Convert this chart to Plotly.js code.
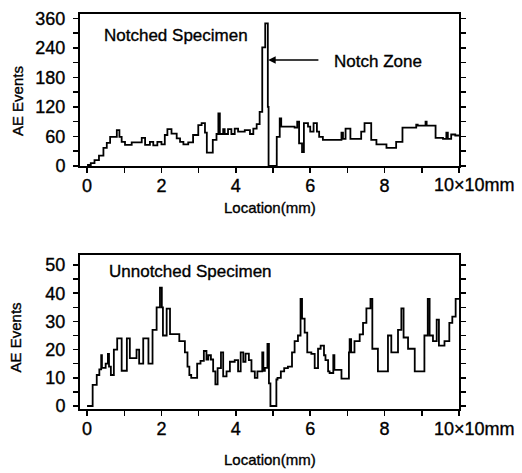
<!DOCTYPE html>
<html>
<head>
<meta charset="utf-8">
<script src="https://cdn.plot.ly/plotly-3.0.1.min.js"></script>
<style>
html,body{margin:0;padding:0;background:#fff;}
#chart{width:522px;height:473px;}
#chart text{stroke:#000;stroke-width:0.35px;}
</style>
</head>
<body>
<div id="chart"></div>
<script>
// Notched specimen: step locations (x, in units of 10 mm) and AE event counts
const notchedX = [0, 0.10, 0.20, 0.32, 0.44, 0.53, 0.62, 0.80, 0.87, 0.93, 1.02, 1.20, 1.47, 1.56, 1.69, 1.78, 1.89, 2.00, 2.09, 2.16, 2.27, 2.41, 2.50, 2.59, 2.72, 2.85, 2.99, 3.08, 3.17, 3.22, 3.38, 3.48, 3.53, 3.57, 3.66, 3.70, 3.79, 3.88, 3.97, 4.06, 4.24, 4.38, 4.47, 4.56, 4.64, 4.71, 4.79, 4.86, 4.88, 5.10, 5.18, 5.22, 5.58, 5.65, 5.70, 5.78, 5.83, 5.94, 6.00, 6.09, 6.18, 6.24, 6.34, 6.84, 6.88, 6.95, 7.08, 7.37, 7.46, 7.64, 7.78, 8.05, 8.31, 8.48, 8.85, 8.89, 9.10, 9.13, 9.37, 9.57, 9.66, 9.70, 9.79, 9.90, 10.0];
const notchedY = [2, 6, 12, 21, 37, 47, 59, 73, 59, 49, 43, 48, 57, 43, 49, 42, 49, 44, 63, 75, 66, 56, 49, 44, 48, 63, 83, 87, 68, 27, 53, 65, 107, 65, 75, 65, 75, 65, 76, 70, 73, 65, 76, 85, 110, 241, 290, 120, 0, 59, 97, 80, 78, 90, 46, 28, 87, 80, 70, 87, 70, 59, 53, 68, 55, 76, 55, 70, 87, 53, 44, 37, 49, 78, 84, 82, 90, 82, 57, 55, 68, 55, 64, 62, 62];

// Unnotched specimen
const unnotchedX = [0, 0.15, 0.26, 0.33, 0.38, 0.40, 0.50, 0.56, 0.59, 0.64, 0.72, 0.81, 0.93, 1.07, 1.15, 1.33, 1.40, 1.51, 1.65, 1.76, 1.87, 1.96, 2.01, 2.04, 2.14, 2.23, 2.48, 2.63, 2.70, 2.75, 2.80, 2.96, 3.05, 3.14, 3.21, 3.26, 3.33, 3.39, 3.45, 3.51, 3.60, 3.66, 3.75, 3.84, 3.97, 4.06, 4.13, 4.20, 4.26, 4.35, 4.42, 4.51, 4.58, 4.71, 4.74, 4.78, 4.85, 4.89, 4.93, 5.09, 5.12, 5.21, 5.30, 5.40, 5.51, 5.58, 5.67, 5.74, 5.78, 5.85, 5.92, 6.03, 6.12, 6.21, 6.28, 6.37, 6.41, 6.48, 6.52, 6.62, 6.65, 6.84, 7.04, 7.06, 7.10, 7.19, 7.33, 7.42, 7.51, 7.62, 7.67, 7.82, 8.09, 8.18, 8.36, 8.45, 8.51, 8.63, 8.81, 9.07, 9.16, 9.21, 9.30, 9.40, 9.46, 9.61, 9.74, 9.82, 9.91, 10.0];
const unnotchedY = [0, 7.5, 11, 13, 18, 13.5, 15, 18.5, 14, 11, 20, 24, 12.5, 24, 17, 20, 15, 24, 15, 27, 35, 42, 35, 25, 34.5, 25.5, 23, 19, 14, 11, 10, 15, 16, 19.5, 16.5, 18, 16.5, 12.3, 7.7, 13.4, 19, 10.5, 12.3, 15.7, 16.3, 12.3, 19, 15.7, 18.6, 16.3, 12.3, 10, 12.3, 19, 12.5, 13.5, 22, 8, 0, 9.4, 10, 12.3, 13.4, 14, 19, 23, 25, 38, 31, 26, 19, 18.5, 13.4, 20.3, 21.4, 18, 16.3, 12.3, 11.7, 18, 12.8, 9.7, 19, 23.7, 19, 23, 25.4, 29.5, 34.6, 38, 20.3, 12.3, 25, 19, 27, 34.6, 24.3, 20.3, 12.3, 25, 38, 25, 23, 30.6, 21.4, 23, 29.5, 31.7, 38, 38];

// Tick labels
const xTickVals = [0, 1, 2, 3, 4, 5, 6, 7, 8, 9, 10];
const xTickText = ['0', '', '2', '', '4', '', '6', '', '8', '', ''];
const topTickVals = [0, 30, 60, 90, 120, 150, 180, 210, 240, 270, 300];
const topTickText = ['0', '', '60', '', '120', '', '180', '', '240', '', '360'];
const botTickVals = [0, 5, 10, 15, 20, 25, 30, 35, 40, 45, 50];
const botTickText = ['0', '', '10', '', '20', '', '30', '', '40', '', '50'];

const FONT = 'Liberation Sans, Arial, Helvetica, sans-serif';
const lineStyle = {color: '#000', width: 1.8, shape: 'hv'};

const traces = [
  {x: notchedX, y: notchedY, type: 'scatter', mode: 'lines', line: lineStyle, xaxis: 'x', yaxis: 'y', hoverinfo: 'skip'},
  {x: unnotchedX, y: unnotchedY, type: 'scatter', mode: 'lines', line: lineStyle, xaxis: 'x2', yaxis: 'y2', hoverinfo: 'skip'}
];

function xAxis(anchor) {
  return {
    anchor: anchor, range: [-0.19, 10.0], tickmode: 'array', tickvals: xTickVals, ticktext: xTickText,
    ticks: 'outside', ticklen: 5, tickwidth: 1.5, tickcolor: '#000',
    showline: true, linecolor: '#000', linewidth: 2, mirror: true,
    showgrid: false, zeroline: false, ticklabelstandoff: -3,
    tickfont: {family: FONT, size: 18, color: '#000'}
  };
}
function yAxis(anchor, domain, range, vals, text) {
  return {
    anchor: anchor, domain: domain, range: range, tickmode: 'array', tickvals: vals, ticktext: text,
    ticks: 'outside', ticklen: 5, tickwidth: 1.5, tickcolor: '#000',
    showline: true, linecolor: '#000', linewidth: 2, mirror: 'ticks',
    showgrid: false, zeroline: false, ticklabelstandoff: 4,
    tickfont: {family: FONT, size: 18, color: '#000'}
  };
}

function txt(text, x, y, opts) {
  return Object.assign({text: text, x: x, y: y, xref: 'paper', yref: 'paper', showarrow: false,
    xanchor: 'center', yanchor: 'middle', font: {family: FONT, size: 17, color: '#000'}}, opts || {});
}

const layout = {
  width: 522, height: 473,
  margin: {l: 80, r: 63, t: 14, b: 64},
  paper_bgcolor: '#fff', plot_bgcolor: '#fff',
  showlegend: false,
  xaxis: xAxis('y'),
  yaxis: yAxis('x', [0.6152, 1], [0, 309], topTickVals, topTickText),
  xaxis2: xAxis('y2'),
  yaxis2: yAxis('x2', [0, 0.3899], [-1.06, 53.55], botTickVals, botTickText),
  annotations: [
    txt('Notched Specimen', 0.058, 0.9468, {xanchor: 'left'}),
    txt('Unnotched Specimen', 0.0712, 0.3481, {xanchor: 'left'}),
    txt('Notch Zone', 0.665, 0.881, {xanchor: 'left'}),
    {text: '', x: 4.87, y: 215.6, xref: 'x', yref: 'y', ax: 6.26, ay: 215.6, axref: 'x', ayref: 'y',
     showarrow: true, arrowhead: 2, arrowsize: 1, arrowwidth: 1.5, arrowcolor: '#000'},
    txt('AE Events', -0.166, 0.7797, {textangle: -90, font: {family: FONT, size: 15, color: '#000'}}),
    txt('AE Events', -0.169, 0.181, {textangle: -90, font: {family: FONT, size: 15, color: '#000'}}),
    txt('Location(mm)', 0.5013, 0.5089, {font: {family: FONT, size: 15, color: '#000'}}),
    txt('Location(mm)', 0.5013, -0.129, {font: {family: FONT, size: 15, color: '#000'}}),
    txt('10×10mm', 0.9288, 0.5671, {xanchor: 'left', font: {family: FONT, size: 18, color: '#000'}}),
    txt('10×10mm', 0.9288, -0.0494, {xanchor: 'left', font: {family: FONT, size: 18, color: '#000'}})
  ]
};

Plotly.newPlot('chart', traces, layout, {displayModeBar: false, staticPlot: true});
</script>
</body>
</html>
